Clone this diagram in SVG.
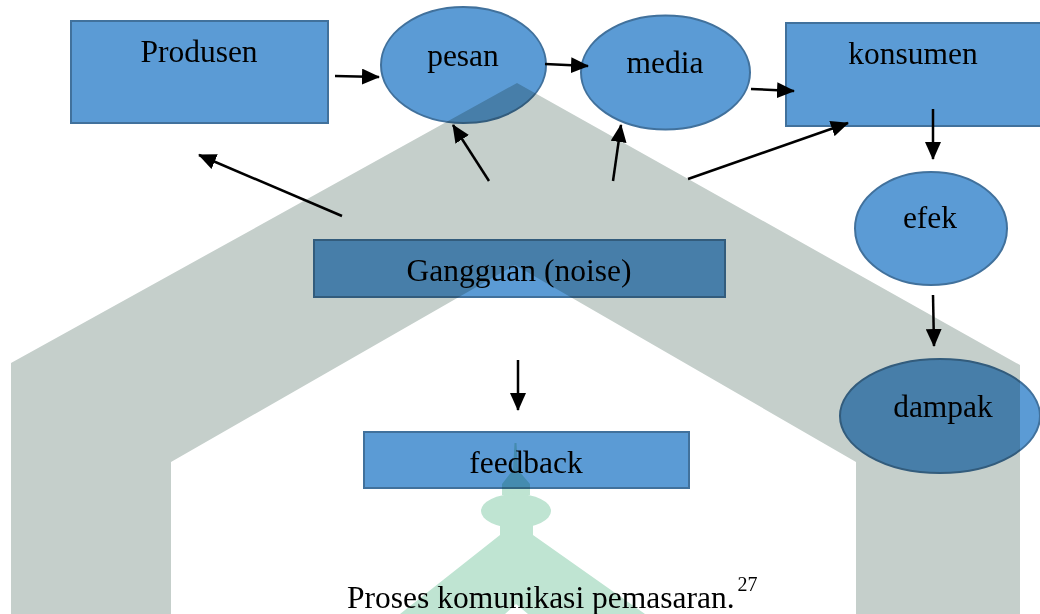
<svg xmlns="http://www.w3.org/2000/svg" width="1040" height="614" viewBox="0 0 1040 614">
<style>
  .node { fill: #5b9bd5; stroke: #41719c; stroke-width: 2; }
  .lbl { font-family: "Liberation Serif", "Times New Roman", serif; font-size: 31.5px; fill: #000; text-anchor: middle; }
  .cap { font-family: "Liberation Serif", "Times New Roman", serif; font-size: 31.5px; fill: #000; }
  .conn line { stroke: #000; stroke-width: 2.5; marker-end: url(#arr); }
  .wm { mix-blend-mode: multiply; }
</style>
<defs>
  <marker id="arr" markerUnits="userSpaceOnUse" markerWidth="18" markerHeight="16" viewBox="0 0 18 16" refX="17" refY="8" orient="auto">
    <path d="M0,0 L18,8 L0,16 z" fill="#000"/>
  </marker>
</defs>
<rect width="1040" height="614" fill="#fff"/>

<g id="produsen">
  <rect class="node" x="71" y="21" width="257" height="102"/>
  <text class="lbl" x="199" y="62">Produsen</text>
</g>
<g id="pesan">
  <ellipse class="node" cx="463.5" cy="65" rx="82.5" ry="58"/>
  <text class="lbl" x="463" y="66">pesan</text>
</g>
<g id="media">
  <ellipse class="node" cx="665.5" cy="72.5" rx="84.5" ry="57"/>
  <text class="lbl" x="665" y="73">media</text>
</g>
<g id="konsumen">
  <rect class="node" x="786" y="23" width="262" height="103"/>
  <text class="lbl" x="913" y="64">konsumen</text>
</g>
<g id="efek">
  <ellipse class="node" cx="931" cy="228.5" rx="76" ry="56.5"/>
  <text class="lbl" x="930" y="228">efek</text>
</g>
<g id="dampak">
  <ellipse class="node" cx="940" cy="416" rx="100" ry="57"/>
  <text class="lbl" x="943" y="417">dampak</text>
</g>
<g id="gangguan">
  <rect class="node" x="314" y="240" width="411" height="57"/>
  <text class="lbl" x="519" y="281">Gangguan (noise)</text>
</g>
<g id="feedback">
  <rect class="node" x="364" y="432" width="325" height="56"/>
  <text class="lbl" x="526" y="473">feedback</text>
</g>

<g id="connectors" class="conn">
  <line x1="335" y1="76" x2="379" y2="77"/>
  <line x1="545" y1="64" x2="588" y2="66"/>
  <line x1="751" y1="89" x2="794" y2="91"/>
  <line x1="933" y1="109" x2="933" y2="159"/>
  <line x1="933" y1="295" x2="934" y2="346"/>
  <line x1="342" y1="216" x2="199" y2="155"/>
  <line x1="489" y1="181" x2="453" y2="125"/>
  <line x1="613" y1="181" x2="621" y2="125"/>
  <line x1="688" y1="179" x2="848" y2="123"/>
  <line x1="518" y1="360" x2="518" y2="410"/>
</g>

<g id="caption">
  <text class="cap" x="347" y="608">Proses komunikasi pemasaran.<tspan font-size="20" dx="3" dy="-17">27</tspan></text>
</g>

<g id="watermark" class="wm">
  <polygon fill="#c5cfcb" points="11,363 517,83 1020,365 1020,614 856,614 856,462 515,265 171,462 171,614 11,614"/>
  <g fill="#bfe4d2">
    <polygon points="514.5,443 516.5,443 518,470 530,484 530,495 502,495 502,484 513,470"/>
    <ellipse cx="516" cy="511" rx="35" ry="17"/>
    <rect x="500" y="520" width="33" height="20"/>
    <polygon points="500,535 533,535 645,614 528,614 516,604 505,614 400,614"/>
  </g>
</g>
</svg>
